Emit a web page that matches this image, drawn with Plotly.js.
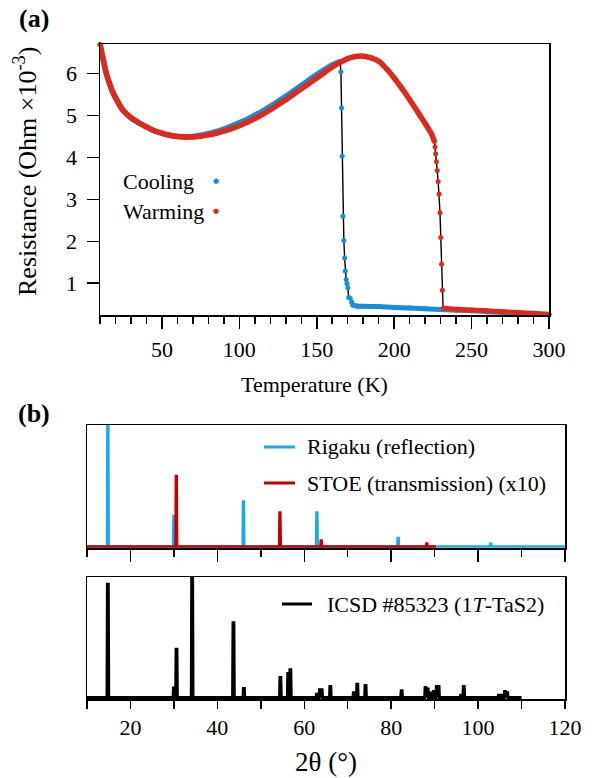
<!DOCTYPE html>
<html><head><meta charset="utf-8">
<script src="https://cdn.plot.ly/plotly-3.0.1.min.js"></script>
<style>html,body{margin:0;padding:0;background:#fff}</style>
</head><body><div id="chart" style="width:607px;height:778px"></div>
<script>
// ---------- Panel (a): resistance vs temperature ----------
const coolT_low = [10,12,14,16,18,20,25,30,35,40,45,50,55,60,65,70,75,80,85,90,95,100,105,110,115,120,125,130,135,140,145,150,155,160,165];
const coolR_low = [6.70,6.35,6.02,5.78,5.58,5.43,5.12,4.95,4.83,4.73,4.64,4.58,4.53,4.50,4.49,4.50,4.53,4.57,4.62,4.68,4.75,4.83,4.91,5.01,5.11,5.22,5.34,5.46,5.59,5.72,5.85,5.98,6.10,6.21,6.29];
const coolT_tr = [165.6,166.0,166.4,166.9,167.5,168.0,168.4,169.0,169.5,170.1,170.6,171.6,172.5];
const coolR_tr = [6.05,5.18,4.03,2.60,2.02,1.60,1.29,1.09,0.99,0.89,0.66,0.64,0.55];
const coolT_high = [173.2,176.4,180,190,200,210,220,230,240,250,260,270,280,290,300];
const coolR_high = [0.48,0.45,0.45,0.44,0.42,0.41,0.39,0.37,0.355,0.34,0.32,0.30,0.28,0.26,0.24];

const warmT_low = [10,12,14,16,18,20,25,30,35,40,45,50,55,60,65,70,75,80,85,90,95,100,105,110,115,120,125,130,135,140,145,150,155,160,165,170,175,180,185,190,195,200,205,210,215,220,224,226];
const warmR_low = [6.70,6.35,6.02,5.78,5.58,5.43,5.12,4.95,4.83,4.73,4.64,4.58,4.53,4.50,4.49,4.49,4.51,4.54,4.58,4.63,4.69,4.76,4.84,4.93,5.03,5.14,5.26,5.38,5.51,5.64,5.77,5.90,6.03,6.16,6.27,6.36,6.41,6.42,6.38,6.30,6.12,5.90,5.65,5.38,5.10,4.81,4.57,4.38];
const warmT_tr = [226.4,226.8,227.3,227.8,228.4,229.0,229.6,230.1,230.6,231.1];
const warmR_tr = [4.25,4.09,3.90,3.69,3.43,3.13,2.68,2.09,1.45,0.83];
const warmT_high = [231.6,240,250,260,270,280,290,300];
const warmR_high = [0.40,0.38,0.36,0.34,0.32,0.30,0.28,0.26];

const aXTicks = [50,100,150,200,250,300];
const aYTicks = [1,2,3,4,5,6];

// ---------- Panel (b): XRD patterns (peak position, relative height) ----------
const rigakuPos = [14.8,30.0,46.0,62.9,81.6,102.9];
const rigakuHt  = [1.05,0.25,0.37,0.28,0.07,0.022];
const stoePos = [30.55,54.4,63.9,88.2];
const stoeHt  = [0.58,0.28,0.05,0.025];
const icsdPos = [14.8,30.0,30.6,34.2,43.7,46.1,54.5,56.3,56.8,62.9,63.6,64.0,66.0,71.4,72.2,74.1,82.4,87.9,88.4,89.3,89.8,90.5,90.9,96.1,96.7,104.8,105.5,106.2,106.7];
const icsdHt  = [0.94,0.08,0.40,1.05,0.62,0.076,0.166,0.20,0.23,0.027,0.065,0.065,0.092,0.04,0.11,0.10,0.057,0.084,0.07,0.038,0.05,0.092,0.092,0.02,0.092,0.02,0.02,0.05,0.04];
const bTicks = [20,40,60,80,100,120];

const C_BLUE = '#128FD8', C_RED = '#E1281D';
const X_BLUE = '#16A9EF', X_RED = '#C40000';
const FONT = '"Liberation Serif", "Times New Roman", Times, serif';

function stick(x0, x1, pos, hts, hw) {
  const x = [x0], y = [0];
  pos.forEach((p, i) => { x.push(p - hw, p - hw * 0.5, p + hw * 0.5, p + hw); y.push(0, hts[i], hts[i], 0); });
  x.push(x1); y.push(0);
  return {x, y};
}

const coolAllT = coolT_low.concat(coolT_tr, coolT_high);
const coolAllR = coolR_low.concat(coolR_tr, coolR_high);
const warmAllT = warmT_low.concat(warmT_tr, warmT_high);
const warmAllR = warmR_low.concat(warmR_tr, warmR_high);

const traces = [];
function series(allT, allR, lowT, lowR, highT, highR, col) {
  traces.push({x: allT, y: allR, mode: 'lines+markers', line: {color: '#000', width: 1.4},
    marker: {color: col, size: 5}, xaxis: 'x', yaxis: 'y', showlegend: false, cliponaxis: false});
  traces.push({x: lowT, y: lowR, mode: 'lines', line: {color: col, width: 5.5, shape: 'spline'}, xaxis: 'x', yaxis: 'y', showlegend: false});
  traces.push({x: highT, y: highR, mode: 'lines', line: {color: col, width: 5, shape: 'spline'}, xaxis: 'x', yaxis: 'y', showlegend: false});
}
series(coolAllT, coolAllR, coolT_low, coolR_low, coolT_high, coolR_high, C_BLUE);
series(warmAllT, warmAllR, warmT_low, warmR_low, warmT_high, warmR_high, C_RED);

const rig = stick(10, 120, rigakuPos, rigakuHt, 0.2);
const sto = stick(10, 90.3, stoePos, stoeHt, 0.2);
const ics = stick(10, 110, icsdPos, icsdHt, 0.2);
traces.push({x: rig.x, y: rig.y, mode: 'lines', line: {color: X_BLUE, width: 2.5}, xaxis: 'x2', yaxis: 'y2', showlegend: false});
traces.push({x: sto.x, y: sto.y, mode: 'lines', line: {color: X_RED, width: 2.5}, xaxis: 'x2', yaxis: 'y2', showlegend: false});
traces.push({x: ics.x, y: ics.y, mode: 'lines', line: {color: '#000', width: 3}, xaxis: 'x3', yaxis: 'y3', showlegend: false});

const W = 607, H = 778;
const px = v => v / W, py = v => 1 - v / H;

const tickFont = {family: FONT, size: 22, color: '#000'};
const minorT = len => ({tick0: 0, dtick: 10, ticks: 'outside', ticklen: len, tickwidth: 1.5, tickcolor: '#000', showgrid: false});
const baseX = {showline: true, mirror: true, linecolor: '#000', linewidth: 1.5, ticks: 'outside', ticklen: 12, tickwidth: 1.5, tickcolor: '#000',
  showgrid: false, zeroline: false, tickfont: tickFont, ticklabelstandoff: 2, minor: minorT(7)};

function ann(text, x, y, size, extra) {
  return Object.assign({text, x: px(x), y: py(y), xref: 'paper', yref: 'paper', showarrow: false, xanchor: 'center', yanchor: 'middle',
    font: {family: FONT, size, color: '#000'}}, extra || {});
}

const layout = {
  width: W, height: H, margin: {l: 0, r: 0, t: 0, b: 0}, paper_bgcolor: '#fff', plot_bgcolor: '#fff', showlegend: false,
  xaxis: Object.assign({}, baseX, {domain: [px(100), px(549)], range: [10, 300], tickvals: aXTicks, anchor: 'y'}),
  yaxis: {domain: [py(315), py(44)], range: [0.24, 6.71], tickvals: aYTicks, anchor: 'x', showline: true, mirror: true, linecolor: '#000', linewidth: 1.5,
    ticks: 'outside', ticklen: 12, tickwidth: 1.5, tickcolor: '#000', showgrid: false, zeroline: false, tickfont: tickFont, ticklabelstandoff: 5},
  xaxis2: Object.assign({}, baseX, {domain: [px(87), px(565)], range: [10, 120], tickvals: bTicks, showticklabels: false, anchor: 'y2'}),
  yaxis2: {domain: [py(548), py(425)], range: [-0.012, 1.0], anchor: 'x2', showline: true, mirror: true, linecolor: '#000', linewidth: 1.5,
    ticks: '', showticklabels: false, showgrid: false, zeroline: false},
  xaxis3: Object.assign({}, baseX, {domain: [px(87), px(565)], range: [10, 120], tickvals: bTicks, anchor: 'y3', ticklen: 8, ticklabelstandoff: 0, minor: minorT(8)}),
  yaxis3: {domain: [py(699), py(577)], range: [-0.012, 1.0], anchor: 'x3', showline: true, mirror: true, linecolor: '#000', linewidth: 1.5,
    ticks: '', showticklabels: false, showgrid: false, zeroline: false},
  shapes: [
    {type: 'line', xref: 'paper', yref: 'paper', x0: px(264), x1: px(295), y0: py(447), y1: py(447), line: {color: X_BLUE, width: 3}},
    {type: 'line', xref: 'paper', yref: 'paper', x0: px(264), x1: px(295), y0: py(483), y1: py(483), line: {color: X_RED, width: 3}},
    {type: 'line', xref: 'paper', yref: 'paper', x0: px(282), x1: px(312), y0: py(604), y1: py(604), line: {color: '#000', width: 3}}
  ],
  annotations: [
    ann('<b>(a)</b>', 34, 19, 26),
    ann('<b>(b)</b>', 34, 413, 26),
    ann('Temperature (K)', 314, 384, 22),
    ann('Resistance (Ohm ×10<sup>-3</sup>)', 26, 172, 26, {textangle: -90}),
    ann('Cooling', 121, 181, 22, {xanchor: 'left'}),
    ann('Warming', 121, 211, 22, {xanchor: 'left'}),
    ann('●', 216, 181, 7, {font: {family: 'DejaVu Sans', size: 7, color: C_BLUE}}),
    ann('●', 216, 211, 7, {font: {family: 'DejaVu Sans', size: 7, color: C_RED}}),
    ann('Rigaku (reflection)', 305, 447, 22, {xanchor: 'left'}),
    ann('STOE (transmission) (x10)', 305, 483, 22, {xanchor: 'left'}),
    ann('ICSD #85323 (1<i>T</i>-TaS2)', 325, 604, 22, {xanchor: 'left'}),
    ann('2θ (°)', 326, 762, 27)
  ]
};

Plotly.newPlot('chart', traces, layout, {staticPlot: true, displayModeBar: false});
</script></body></html>
